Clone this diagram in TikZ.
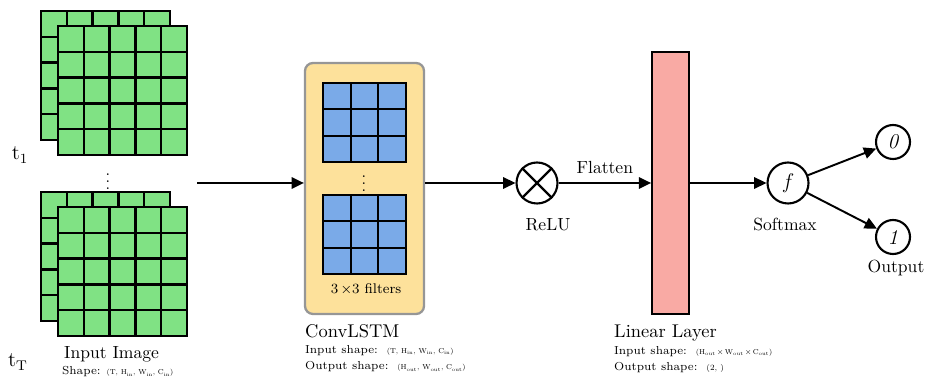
\documentclass[tikz,border=0pt]{standalone}
\usepackage{tikz}
\usepackage{graphicx}
\usetikzlibrary{arrows.meta, positioning, calc}
\usepackage{xcolor}

\definecolor{imggreen}{RGB}{128,226,132}
\definecolor{filtblue}{RGB}{122,170,232}
\definecolor{convfill}{RGB}{253,225,155}
\definecolor{convedge}{RGB}{150,150,150}
\definecolor{linfill}{RGB}{249,170,164}

\begin{document}
\begin{tikzpicture}[
  x=0.02cm, y=-0.02cm,
  >={Stealth[length=7pt, width=6.5pt, inset=0pt]},
  arrow/.style={->, line width=1.1pt},
  imgcell/.style={draw, line width=1.3pt, fill=imggreen},
  filtcell/.style={draw, line width=1.3pt, fill=filtblue},
  convbox/.style={draw=convedge, line width=1.3pt, rounded corners=4.5pt, fill=convfill, minimum width=2.38cm, minimum height=5.02cm},
  linbox/.style={draw, line width=1pt, fill=linfill, minimum width=0.74cm, minimum height=5.24cm},
  opcircle/.style={draw, circle, line width=1.2pt, minimum size=0.82cm, inner sep=0pt},
  outcircle/.style={draw, circle, line width=1.2pt, minimum size=0.68cm, inner sep=0pt},
  caption/.style={anchor=west, font=\fontsize{10.5}{12}\selectfont},
  shapetxt/.style={anchor=west, font=\fontsize{6.6}{8}\selectfont, inner sep=1pt},
  lbl/.style={font=\fontsize{10}{12}\selectfont},
  dots/.style={font=\small, inner sep=0pt}
]
\useasboundingbox (0,0) rectangle (928,377);

% INPUT IMAGES
\foreach \gx/\gy in {41/11, 58/26, 41/192, 58/207}{
  \draw[imgcell] (\gx,\gy) rectangle ++(129,129);
  \foreach \k in {1,...,4}{
    \draw[imgcell] (\gx+\k*25.8,\gy) -- ++(0,129);
    \draw[imgcell] (\gx,\gy+\k*25.8) -- ++(129,0);
  }
}
\node[font=\large] (tfirst) at (20,155) {t\textsubscript{1}};
\node[font=\large] (tlast) at (18,362) {t\textsubscript{T}};
\node[dots] (imgdots) at (108,176) {$\vdots$};
\node[caption, font=\fontsize{10}{12}\selectfont] (imgname) at (58,354) {Input Image};
\node[shapetxt] (imgshape) at (60,372) {Shape: \scalebox{0.62}{(T, H\textsubscript{in}, W\textsubscript{in}, C\textsubscript{in})}};
\coordinate (imgout) at (197,183);

% CONVLSTM
\node[convbox] (conv) at (364.5,188.5) {};
\foreach \fy in {83, 195}{
  \draw[filtcell] (323,\fy) rectangle ++(83,79);
  \foreach \k in {1,2}{
    \draw[filtcell] (323+\k*27.67,\fy) -- ++(0,79);
    \draw[filtcell] (323,\fy+\k*26.33) -- ++(83,0);
  }
}
\node[dots] (convdots) at (364,178) {$\vdots$};
\node[font=\fontsize{8}{9}\selectfont] (filttxt) at (366,289) {3\,$\times$3 filters};
\node[caption] (convname) at (299,331) {ConvLSTM};
\node[shapetxt] (convin) at (303,351) {Input shape:\ \ \scalebox{0.62}{(T, H\textsubscript{in}, W\textsubscript{in}, C\textsubscript{in})}};
\node[shapetxt] (convout) at (303,367) {Output shape:\ \ \scalebox{0.62}{(H\textsubscript{out}, W\textsubscript{out}, C\textsubscript{out})}};

\draw[arrow] (imgout) -- (imgout -| conv.west);

% RELU + LINEAR LAYER
\node[opcircle] (relu) at (537,183) {};
\draw[line width=1.3pt] (relu.north west) -- (relu.south east) (relu.north east) -- (relu.south west);
\node[lbl] (relutxt) at (548,225) {ReLU};
\node[linbox] (linear) at (670.5,183) {};
\node[caption] (linname) at (608,333) {Linear Layer};
\node[shapetxt] (linin) at (612,352) {Input shape:\ \ \scalebox{0.62}{(H\textsubscript{out}\,$\times$\,W\textsubscript{out}\,$\times$\,C\textsubscript{out})}};
\node[shapetxt] (linout) at (612,368) {Output shape:\ \ \scalebox{0.7}{(2, )}};

\draw[arrow] (conv.east |- relu.west) -- (relu.west);
\draw[arrow] (relu.east) -- node[lbl, above=1.5pt] (flattxt) {Flatten} (relu.east -| linear.west);

% SOFTMAX + OUTPUT
\node[opcircle] (smax) at (788,183) {\large $f$};
\node[lbl] (smaxtxt) at (785,225) {Softmax};
\node[outcircle] (out0) at (893,142) {\large\itshape 0};
\node[outcircle] (out1) at (893,237) {\large\itshape 1};
\node[lbl] (outtxt) at (896,268) {Output};

\draw[arrow] (linear.east |- smax.west) -- (smax.west);
\draw[arrow] (smax) -- (out0);
\draw[arrow] (smax) -- (out1);

\end{tikzpicture}
\end{document}
